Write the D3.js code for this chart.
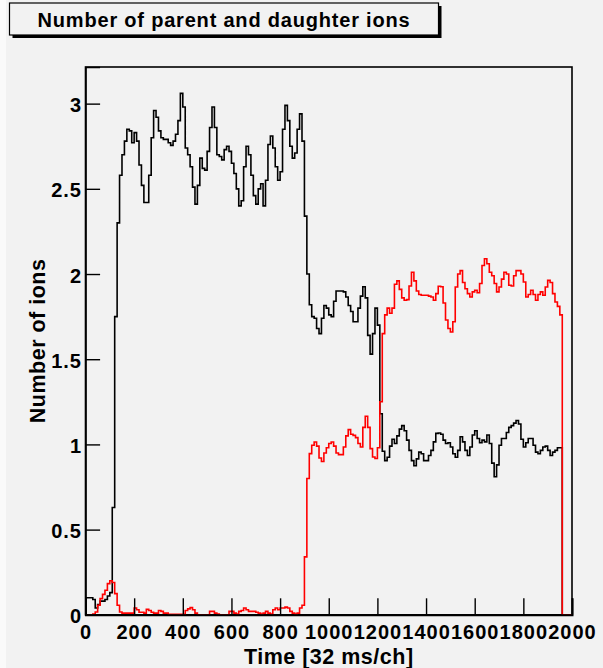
<!DOCTYPE html>
<html><head><meta charset="utf-8">
<script src="https://cdn.jsdelivr.net/npm/d3@7/dist/d3.min.js"></script>
<style>
html,body{margin:0;padding:0;background:#f2f2f2;}
svg{display:block;}
text{font-family:"Liberation Sans",Arial,Helvetica,sans-serif;font-weight:bold;fill:#000;}
</style></head>
<body>
<svg id="c" width="603" height="668"></svg>
<script>
// ---- data ----
const titleText = "Number of parent and daughter ions";
const xTitle = "Time [32 ms/ch]";
const yTitle = "Number of ions";
const binWidth = 10; // channels per bin
const xTicks = [0,200,400,600,800,1000,1200,1400,1600,1800,2000];
const yTicks = [0,0.5,1,1.5,2,2.5,3];
const parentIons = [
0.10,0.10,0.10,0.09,0.04,0.06,0.08,0.08,0.09,0.11,
0.13,0.63,1.75,2.30,2.58,2.70,2.78,2.85,2.84,2.77,
2.83,2.78,2.64,2.52,2.42,2.42,2.58,2.80,2.96,2.92,
2.84,2.80,2.79,2.79,2.77,2.755,2.78,2.82,2.90,3.06,
2.98,2.74,2.70,2.63,2.51,2.41,2.52,2.68,2.62,2.61,
2.72,2.86,2.98,2.86,2.70,2.69,2.67,2.73,2.75,2.72,
2.65,2.59,2.50,2.40,2.43,2.63,2.75,2.70,2.58,2.46,
2.41,2.50,2.53,2.40,2.55,2.76,2.81,2.74,2.63,2.55,
2.60,2.85,2.99,2.90,2.75,2.68,2.71,2.85,2.94,2.78,
2.34,2.00,1.82,1.75,1.74,1.68,1.65,1.74,1.815,1.80,
1.76,1.75,1.84,1.90,1.90,1.90,1.895,1.865,1.815,1.78,
1.72,1.72,1.80,1.87,1.925,1.86,1.64,1.53,1.65,1.80,
1.70,1.18,0.96,0.905,0.925,0.99,1.03,1.005,1.05,1.09,
1.11,1.08,1.025,0.965,0.905,0.875,0.915,0.955,0.945,0.905,
0.905,0.935,0.965,1.015,1.065,1.067,1.06,1.025,1.005,1.01,
0.985,0.945,0.925,0.965,1.045,1.015,0.965,0.935,0.985,1.055,
1.08,1.035,1.01,1.025,1.015,1.055,1.005,0.89,0.81,0.88,
0.995,1.035,1.035,1.07,1.10,1.11,1.125,1.14,1.12,1.03,
0.985,1.01,1.035,1.035,0.995,0.955,0.945,0.965,0.985,0.99,
0.965,0.935,0.955,0.965,0.98,0.98,0,0,0,0];
const daughterIons = [
0,0,0,0.005,0.016,0.056,0.095,0.12,0.144,0.183,
0.20,0.19,0.124,0.056,0.016,0.01,0.01,0.01,0.01,0.01,
0.04,0.03,0.015,0.015,0.01,0.032,0.025,0.015,0.01,0.01,
0.025,0.02,0.01,0.01,0.003,0.003,0.003,0.003,0.003,0.003,
0.003,0.025,0.035,0.042,0.03,0.01,0,0,0,0,
0,0.02,0.02,0.01,0.005,0,0,0,0,0.02,
0.02,0.01,0.005,0.02,0.025,0.04,0.03,0.02,0.02,0.02,
0.015,0.01,0.005,0.01,0.02,0.01,0.005,0.03,0.04,0.03,
0.04,0.04,0.045,0.04,0.02,0.01,0.005,0.01,0.04,0.056,
0.34,0.80,0.946,0.995,1.014,0.99,0.92,0.90,0.95,0.98,
1.005,1.014,0.99,0.95,0.94,0.94,0.985,1.05,1.087,1.06,
1.053,1.04,1.005,0.985,1.10,1.165,1.10,0.975,0.926,0.917,
0.98,1.25,1.65,1.76,1.80,1.77,1.80,1.94,1.96,1.91,
1.86,1.846,1.85,1.93,2.01,1.96,1.90,1.88,1.875,1.875,
1.875,1.87,1.865,1.846,1.885,1.928,1.925,1.83,1.73,1.68,
1.66,1.72,1.924,2.00,2.02,1.95,1.914,1.885,1.865,1.895,
1.905,1.89,1.944,2.05,2.09,2.06,2.01,1.99,1.944,1.895,
1.924,1.97,2.01,2.00,1.934,1.93,1.99,2.02,2.02,2.00,
1.953,1.865,1.88,1.905,1.88,1.846,1.88,1.895,1.875,1.924,
1.963,1.95,1.885,1.836,1.81,1.76,0,0,0,0];

// ---- layout ----
const svg = d3.select("#c");
const W = 603, H = 668;
const px0 = 85.5, px1 = 572, py0 = 67, py1 = 614.8;
const x = d3.scaleLinear().domain([0, 2000]).range([px0, px1]);
const y = d3.scaleLinear().domain([0, 3.215]).range([py1, py0]);

svg.append("rect").attr("x",0).attr("y",0).attr("width",W).attr("height",H).attr("fill","#f2f2f2");
svg.append("rect").attr("x",0).attr("y",0).attr("width",6).attr("height",H).attr("fill","#fafafa");

// title box with shadow
svg.append("rect").attr("x",12.5).attr("y",6).attr("width",429).attr("height",32).attr("fill","#000");
svg.append("rect").attr("x",9.5).attr("y",3).attr("width",429).attr("height",32)
  .attr("fill","#f2f2f2").attr("stroke","#000").attr("stroke-width",1.2);
svg.append("text").attr("x",224).attr("y",26.5).attr("text-anchor","middle")
  .style("font-size","20px").style("letter-spacing","0.8px").text(titleText);

// frame
svg.append("rect").attr("x",px0).attr("y",py0).attr("width",px1-px0).attr("height",py1-py0)
  .attr("fill","#f2f2f2").attr("stroke","#000").attr("stroke-width",1.6);

svg.append("clipPath").attr("id","clip").append("rect")
  .attr("x",px0).attr("y",py0-2).attr("width",px1-px0).attr("height",py1-py0+2);

function histPoints(vals){
  const pts=[[0,0]];
  vals.forEach((v,i)=>pts.push([i*binWidth,v]));
  pts.push([vals.length*binWidth, vals[vals.length-1]]);
  pts.push([vals.length*binWidth, 0]);
  return pts;
}
const line = d3.line().x(d=>x(d[0])).y(d=>y(d[1])).curve(d3.curveStepAfter);
const g = svg.append("g").attr("clip-path","url(#clip)");
g.append("path").attr("d", line(histPoints(parentIons))).attr("fill","none")
  .attr("stroke","#000").attr("stroke-width",1.6);
g.append("path").attr("d", line(histPoints(daughterIons))).attr("fill","none")
  .attr("stroke","#ff0000").attr("stroke-width",1.6);

// x axis
const xMinor = d3.range(0, 2001, 50).filter(v=>v%200!==0);
const xa = svg.append("g").attr("transform",`translate(0,${py1})`);
xa.call(d3.axisBottom(x).tickValues(xMinor).tickSize(-8.2).tickFormat(""));
xa.call(d3.axisBottom(x).tickValues(xTicks).tickSize(-16.5).tickFormat(d3.format("d")));
xa.selectAll("path.domain").attr("stroke","#000").attr("stroke-width",2);
xa.selectAll(".tick line").attr("stroke","#000").attr("stroke-width",1.4);
xa.selectAll(".tick text").attr("y",24).attr("dy",null)
  .style("font-size","20px").style("letter-spacing","1px").attr("text-anchor","middle");

// y axis
const yMinor = d3.range(0, 33).map(i=>i/10).filter(v=>Math.abs(v*2-Math.round(v*2))>1e-6);
const ya = svg.append("g").attr("transform",`translate(${px0},0)`);
ya.call(d3.axisLeft(y).tickValues(yMinor).tickSize(-7.3).tickFormat(""));
ya.call(d3.axisLeft(y).tickValues(yTicks).tickSize(-14.6).tickFormat(d=>String(d)));
ya.selectAll("path.domain").attr("stroke","#000").attr("stroke-width",1.6);
ya.selectAll(".tick line").attr("stroke","#000").attr("stroke-width",1.4);
ya.selectAll(".tick text").attr("x",-3.5).attr("dy",null).attr("y",8)
  .style("font-size","20px").style("letter-spacing","1px").attr("text-anchor","end");

// axis titles
svg.append("text").attr("x",(px0+px1)/2).attr("y",664).attr("text-anchor","middle")
  .style("font-size","21.5px").style("letter-spacing","0.5px").text(xTitle);
svg.append("text").attr("transform",`translate(45,${(py0+py1)/2}) rotate(-90)`).attr("text-anchor","middle")
  .style("font-size","21.5px").style("letter-spacing","0.5px").text(yTitle);
</script>
</body></html>
